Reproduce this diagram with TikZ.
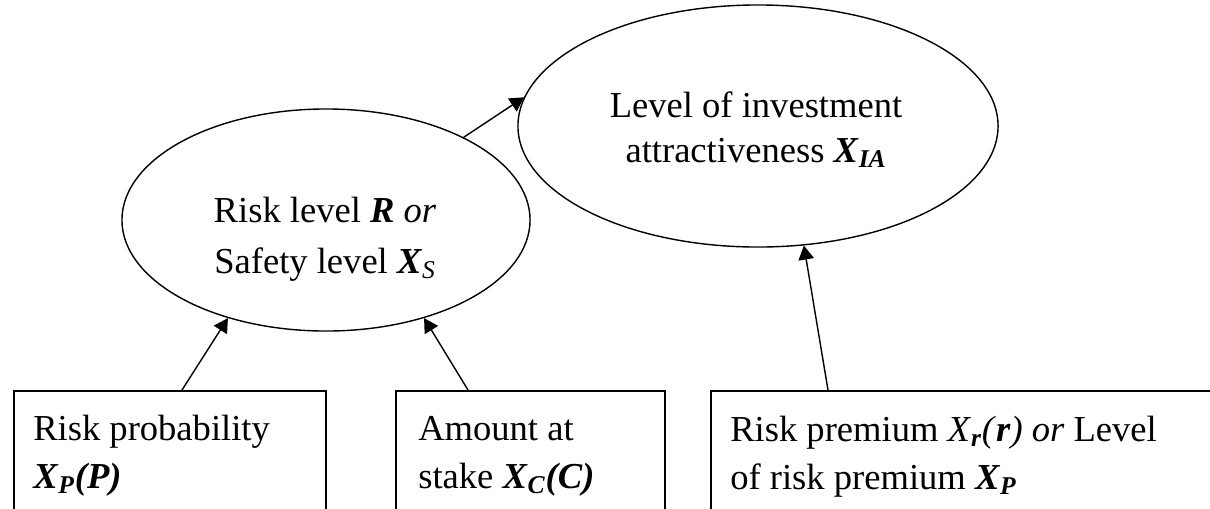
\documentclass[tikz,border=0pt]{standalone}
\usepackage{fontspec}
\setmainfont{Liberation Serif}
\usepackage{tikz}
\usetikzlibrary{positioning}
\usetikzlibrary{shapes.geometric}
\usetikzlibrary{arrows.meta}
\usetikzlibrary{calc}

\newcommand{\bivar}[1]{\textbf{\textit{#1}}}
\newcommand{\bisub}[1]{\textsubscript{\bivar{#1}}}

\begin{document}
\begin{tikzpicture}[
  x=0.025cm, y=-0.025cm,
  bubble/.style={draw, ellipse, line width=1pt, inner sep=0pt},
  factor/.style={draw, rectangle, line width=1.1pt, inner sep=0pt, anchor=north west, minimum height=4cm},
  txt/.style={inner sep=0pt, align=center, font=\fontsize{26}{31.3}\selectfont},
  boxtxt/.style={inner sep=0pt, align=left, anchor=base west, font=\fontsize{26}{34}\selectfont},
  arrow/.style={-{Triangle[length=10pt, width=11pt]}, line width=1pt}
]
\clip (0,0) rectangle (1210,508);

% ellipses
\node[bubble, minimum width=12cm, minimum height=6.05cm] (ia) at (758,126) {};
\node[bubble, minimum width=10.2cm, minimum height=5.55cm] (rs) at (326,220) {};
\node[txt, anchor=base] (iatext) at (756,162) {Level of investment\\attractiveness \bivar{X}\bisub{IA}};
\node[txt, anchor=base, font=\fontsize{26}{35.6}\selectfont] (rstext) at (325,273) {Risk level \bivar{R} \textit{or}\\Safety level \bivar{X}\textsubscript{\textit{S}}};

% factor boxes
\node[factor, minimum width=7.8cm] (pbox) at (13,390) {};
\node[factor, minimum width=6.725cm] (cbox) at (395,390) {};
\node[factor, minimum width=13.5cm] (rbox) at (710,390) {};
\node[boxtxt] (ptext) at (33,488) {Risk probability\\\bivar{X}\bisub{P}\bivar{(P)}};
\node[boxtxt] (ctext) at (418,488) {Amount at\\stake \bivar{X}\bisub{C}\bivar{(C)}};
\node[boxtxt] (rtext) at (730,489) {Risk premium \textit{X}\bisub{r}\textit{(}\bivar{r}\textit{) or} Level\\of risk premium \bivar{X}\bisub{P}};

% connectors
\draw[arrow] ($(pbox.north west)+(169,0)$) -- (rs.225);
\draw[arrow] ($(cbox.north west)+(73,0)$) -- (rs.315);
\draw[arrow] (rs.31) -- (ia.173);
\draw[arrow] ($(rbox.north west)+(118,0)$) -- (ia.291);

\end{tikzpicture}
\end{document}
